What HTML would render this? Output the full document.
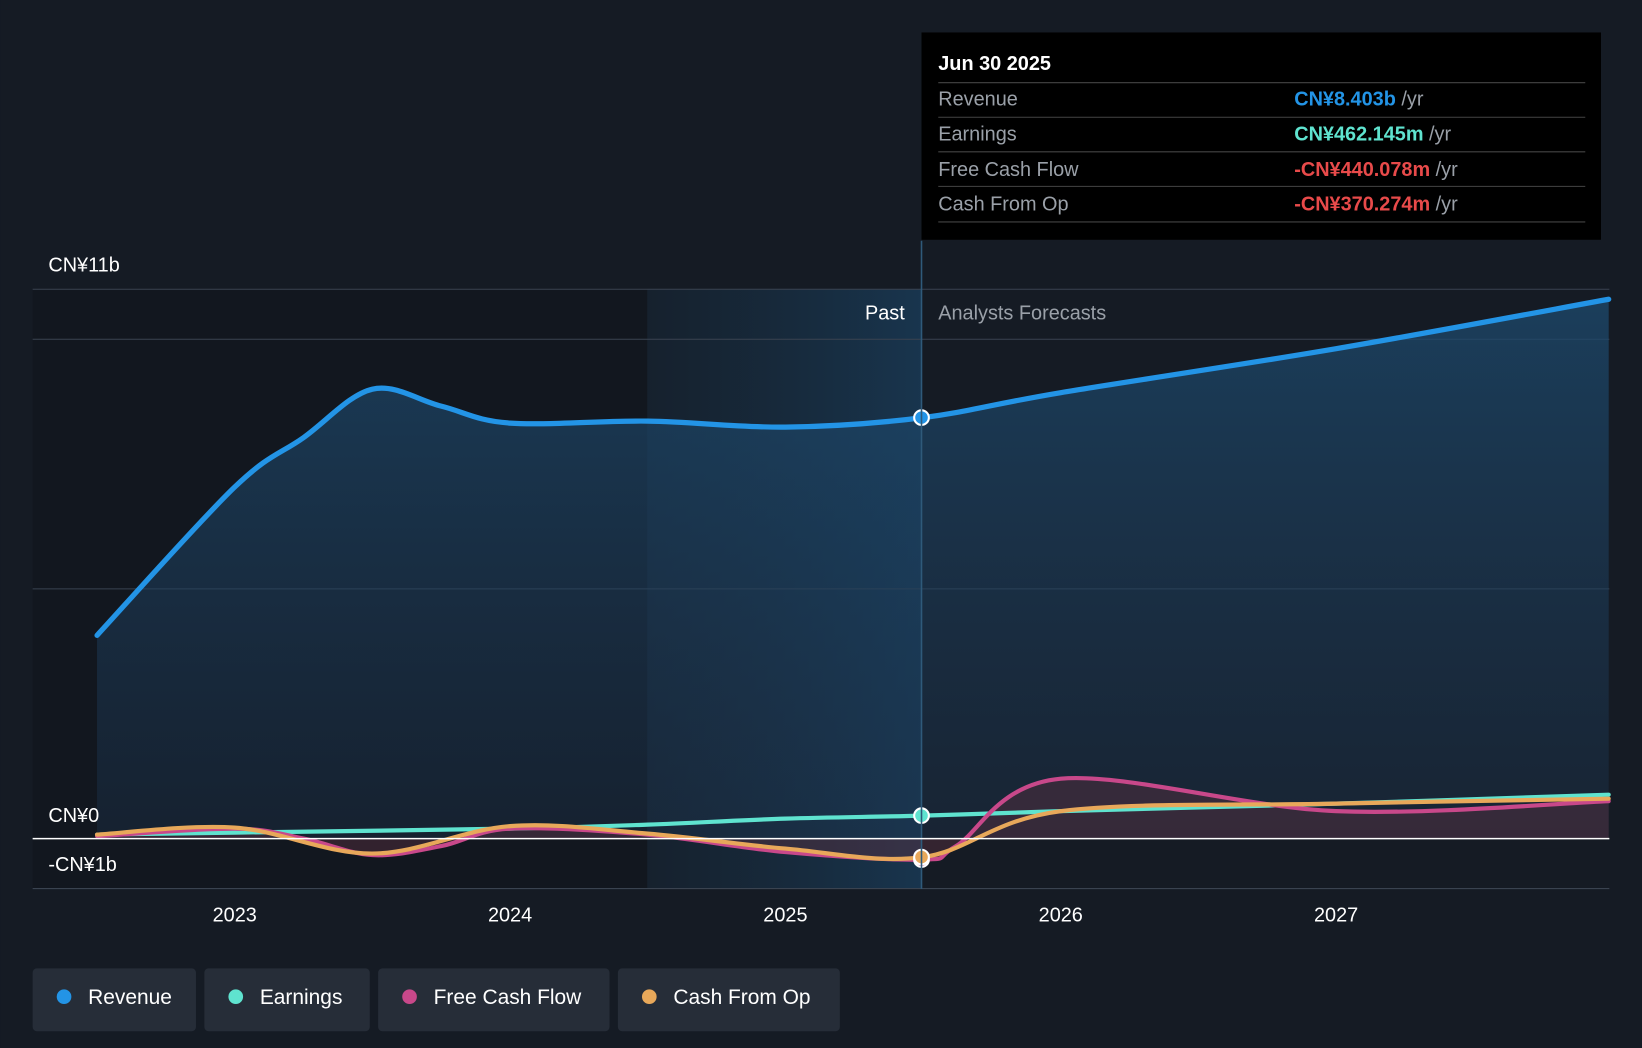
<!DOCTYPE html>
<html><head><meta charset="utf-8"><style>
html,body{margin:0;padding:0;background:#151b24;}
svg{display:block;font-family:"Liberation Sans",sans-serif;}
</style></head><body>
<svg id="chart" width="1642" height="1048" viewBox="0 0 1568 1001">
<defs>
<linearGradient id="revFill" x1="0" y1="0" x2="0" y2="1"><stop offset="0" stop-color="#1d4a6e" stop-opacity="0.75"/><stop offset="1" stop-color="#1d3550" stop-opacity="0.35"/></linearGradient>
<linearGradient id="pastFill" x1="0" y1="0" x2="1" y2="0"><stop offset="0" stop-color="#1a3a55" stop-opacity="0.2"/><stop offset="1" stop-color="#1a4a70" stop-opacity="0.55"/></linearGradient>
</defs>
<rect width="1568" height="1001" fill="#151b24"/>
<rect x="31" y="276" width="587" height="573" fill="#12171f"/>
<rect x="618" y="276" width="262" height="573" fill="url(#pastFill)"/>
<g id="grid"></g>
<g id="marks"></g>
<line x1="880" y1="230" x2="880" y2="849" stroke="#2f5a7a" stroke-width="1.5"/>
<text x="864" y="305" fill="#fff" font-size="19" text-anchor="end">Past</text>
<text x="896" y="305" fill="#9aa0a8" font-size="19">Analysts Forecasts</text>
<g id="axes"></g>
<g>
<rect x="880" y="31" width="649" height="198" fill="#000"/>
<text x="896" y="67" fill="#fff" font-size="19" font-weight="bold">Jun 30 2025</text>
<line x1="896" y1="79" x2="1514" y2="79" stroke="#444"/>
<text x="896" y="101" fill="#9aa0a8" font-size="19">Revenue</text>
<text x="1236" y="101" font-size="19"><tspan fill="#2394e6" font-weight="bold">CN¥8.403b</tspan><tspan fill="#9aa0a8"> /yr</tspan></text>
<line x1="896" y1="112" x2="1514" y2="112" stroke="#444"/>
<text x="896" y="134" fill="#9aa0a8" font-size="19">Earnings</text>
<text x="1236" y="134" font-size="19"><tspan fill="#5fe3cf" font-weight="bold">CN¥462.145m</tspan><tspan fill="#9aa0a8"> /yr</tspan></text>
<line x1="896" y1="145" x2="1514" y2="145" stroke="#444"/>
<text x="896" y="168" fill="#9aa0a8" font-size="19">Free Cash Flow</text>
<text x="1236" y="168" font-size="19"><tspan fill="#e84a4a" font-weight="bold">-CN¥440.078m</tspan><tspan fill="#9aa0a8"> /yr</tspan></text>
<line x1="896" y1="178" x2="1514" y2="178" stroke="#444"/>
<text x="896" y="201" fill="#9aa0a8" font-size="19">Cash From Op</text>
<text x="1236" y="201" font-size="19"><tspan fill="#e84a4a" font-weight="bold">-CN¥370.274m</tspan><tspan fill="#9aa0a8"> /yr</tspan></text>
<line x1="896" y1="212" x2="1514" y2="212" stroke="#444"/>
</g>
<g id="legend"></g>
</svg>
<script>
const years=[2022.5,2023,2023.25,2023.5,2023.75,2024,2024.5,2025,2025.5,2026,2027,2027.99];
const revenue=[4.07,7.04,8.03,9.0,8.66,8.32,8.36,8.24,8.43,8.93,9.81,10.8];
const earnYears=[2022.5,2023,2024,2024.5,2025,2025.5,2026,2027,2027.99];
const earnings=[0.08,0.12,0.2,0.28,0.4,0.46,0.55,0.7,0.88];
const fcfYears=[2022.5,2023,2023.25,2023.5,2023.75,2024,2024.5,2025,2025.5,2025.62,2026,2027,2027.99];
const fcf=[0.05,0.2,0.0,-0.33,-0.15,0.2,0.08,-0.27,-0.42,-0.15,1.2,0.55,0.75];
const cfoYears=[2022.5,2023,2023.5,2024,2024.5,2025,2025.5,2026,2027,2027.99];
const cfo=[0.08,0.22,-0.3,0.25,0.1,-0.2,-0.37,0.55,0.7,0.8];
const yTicks=[11,10,5,0,-1];
const xTicks=[2023,2024,2025,2026,2027];
const X=t=>224+(t-2023)*263;
const Y=v=>801-v*47.7;
const NS="http://www.w3.org/2000/svg";
function mk(tag,attrs,parent){const e=document.createElementNS(NS,tag);for(const k in attrs)e.setAttribute(k,attrs[k]);parent.appendChild(e);return e;}
function path(xs,vs){const p=xs.map((t,i)=>[X(t),Y(vs[i])]);let d=`M${p[0][0]},${p[0][1]}`;
for(let i=0;i<p.length-1;i++){const p0=p[Math.max(0,i-1)],p1=p[i],p2=p[i+1],p3=p[Math.min(p.length-1,i+2)];
d+=` C${p1[0]+(p2[0]-p0[0])/6},${p1[1]+(p2[1]-p0[1])/6} ${p2[0]-(p3[0]-p1[0])/6},${p2[1]-(p3[1]-p1[1])/6} ${p2[0]},${p2[1]}`;}return d;}
const grid=document.getElementById('grid'),marks=document.getElementById('marks'),axes=document.getElementById('axes');
yTicks.forEach(v=>{const l=mk('line',{x1:31,x2:1537,y1:Y(v),y2:Y(v),stroke:v===0?'#ffffff':'#3a4350','stroke-width':v===0?1.5:1},v===0?axes:grid);

});
[[11,'CN¥11b',-17],[0,'CN¥0',-16],[-1,'-CN¥1b',-17]].forEach(([v,s,o])=>{const t=mk('text',{x:46,y:Y(v)+o,fill:'#fff','font-size':19},axes);t.textContent=s;

});
xTicks.forEach(y=>{const t=mk('text',{x:X(y),y:880,fill:'#fff','font-size':19,'text-anchor':'middle'},axes);t.textContent=y;

});
const rp=path(years,revenue);
const ra=mk('path',{d:rp+` L${X(years[years.length-1])},${Y(0)} L${X(years[0])},${Y(0)} Z`,fill:'url(#revFill)'},marks);


const fa=mk('path',{d:path(fcfYears,fcf)+` L${X(fcfYears[fcfYears.length-1])},${Y(0)} L${X(fcfYears[0])},${Y(0)} Z`,fill:'#5a3040','opacity':0.45},marks);


const series=[['earnings-line',earnYears,earnings,'#5fe3cf'],['fcf-line',fcfYears,fcf,'#c8488a'],['cfo-line',cfoYears,cfo,'#e8a85a'],['revenue-line',years,revenue,'#2394e6']];
series.forEach(([n,xs,vs,c])=>{const p=mk('path',{d:path(xs,vs),fill:'none',stroke:c,'stroke-width':n==='revenue-line'?5:4,'stroke-linecap':'round'},marks);

});
[[revenue[8],'#2394e6'],[earnings[5],'#5fe3cf'],[fcf[8],'#c8488a'],[cfo[6],'#e8a85a']].forEach(([v,c])=>{const d=mk('circle',{cx:880,cy:Y(v),r:7,fill:c,stroke:'#fff','stroke-width':2},marks);

});
const leg=document.getElementById('legend');
[['Revenue','#2394e6',31,156],['Earnings','#5fe3cf',195,158],['Free Cash Flow','#c8488a',361,221],['Cash From Op','#e8a85a',590,212]].forEach(([s,c,x,w])=>{
const g=mk('g',{},leg);


mk('rect',{x:x,y:925,width:w,height:60,rx:4,fill:'#262d38'},g);
mk('circle',{cx:x+30,cy:952,r:7,fill:c},g);
const t=mk('text',{x:x+53,y:959,fill:'#fff','font-size':20},g);t.textContent=s;});
</script>
</body></html>
